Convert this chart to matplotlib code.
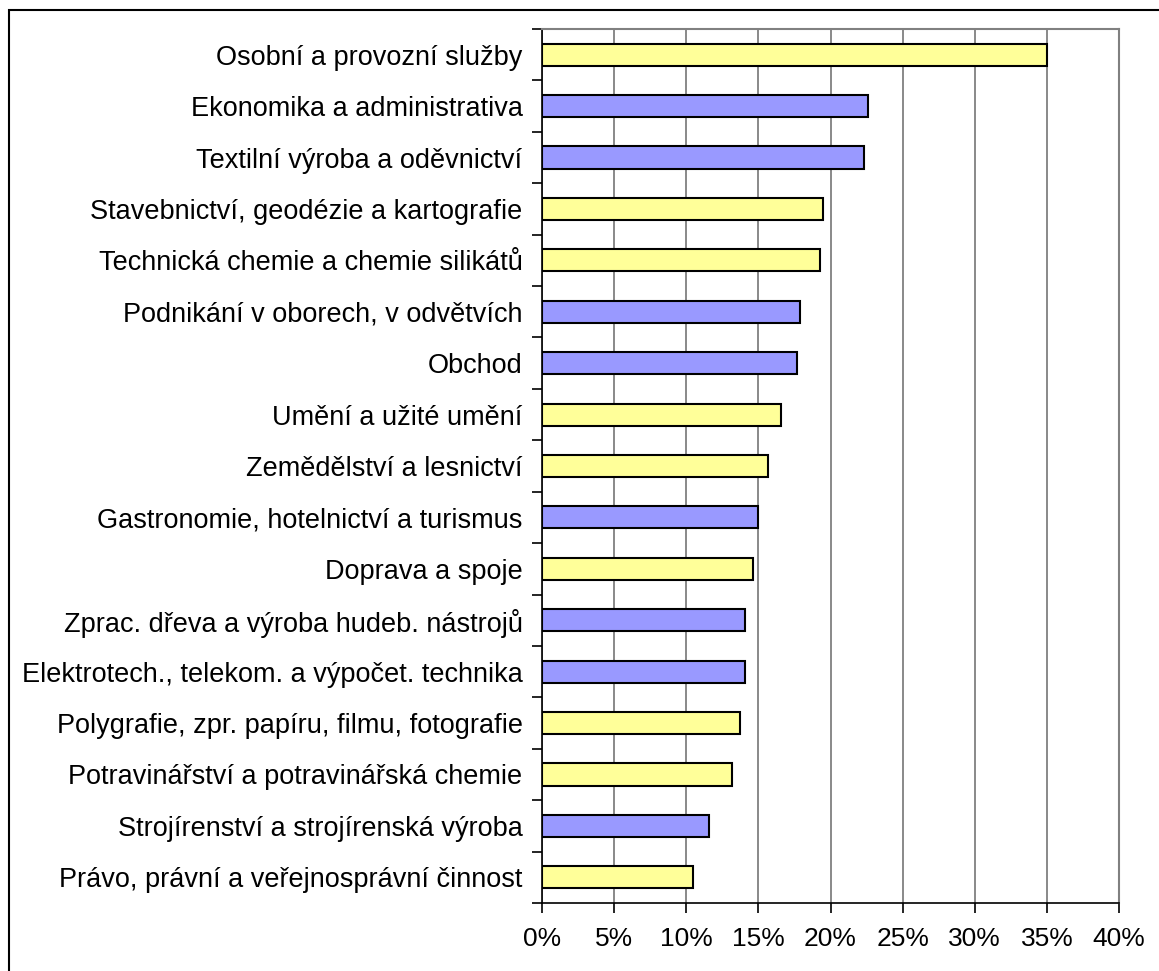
import matplotlib.pyplot as plt
import numpy as np
from matplotlib.patches import Rectangle
from matplotlib.ticker import FixedLocator, PercentFormatter

plt.rcParams['font.family'] = ['Liberation Sans', 'DejaVu Sans']

# categories top to bottom
categories = [
    "Osobní a provozní služby",
    "Ekonomika a administrativa",
    "Textilní výroba a oděvnictví",
    "Stavebnictví, geodézie a kartografie",
    "Technická chemie a chemie silikátů",
    "Podnikání v oborech, v odvětvích",
    "Obchod",
    "Umění a užité umění",
    "Zemědělství a lesnictví",
    "Gastronomie, hotelnictví a turismus",
    "Doprava a spoje",
    "Zprac. dřeva a výroba hudeb. nástrojů",
    "Elektrotech., telekom. a výpočet. technika",
    "Polygrafie, zpr. papíru, filmu, fotografie",
    "Potravinářství a potravinářská chemie",
    "Strojírenství a strojírenská výroba",
    "Právo, právní a veřejnosprávní činnost",
]
values = [35.0, 22.6, 22.3, 19.5, 19.3, 17.9, 17.7, 16.6, 15.7,
          15.0, 14.6, 14.1, 14.1, 13.7, 13.2, 11.6, 10.5]
groups = ["Y", "B", "B", "Y", "Y", "B", "B", "Y", "Y",
          "B", "Y", "B", "B", "Y", "Y", "B", "Y"]
group_colors = {"Y": "#FFFF99", "B": "#9999FF"}
x_ticks = [0, 5, 10, 15, 20, 25, 30, 35, 40]

W, H = 1159, 971
fig = plt.figure(figsize=(W / 100, H / 100), dpi=100)
ax = fig.add_axes([542 / W, 1 - 903 / H, (1119 - 542) / W, (903 - 29) / H])

n = len(categories)
ypos = np.arange(n)[::-1]
ax.barh(ypos, values, height=0.43,
        color=[group_colors[g] for g in groups],
        edgecolor="black", linewidth=1.5, zorder=3)

ax.set_xlim(0, 40)
ax.set_ylim(-0.5, n - 0.5)
ax.xaxis.set_major_locator(FixedLocator(x_ticks))
ax.xaxis.set_major_formatter(PercentFormatter(decimals=0))
ax.grid(axis="x", color="#808080", linewidth=1.3, zorder=0)

ax.set_yticks(ypos)
ax.set_yticklabels(categories)
ax.yaxis.set_minor_locator(FixedLocator(np.arange(-0.5, n, 1.0)))
ax.tick_params(axis="y", which="major", length=0, pad=14, labelsize=19.5)
ax.tick_params(axis="y", which="minor", length=7, width=1.2, color="black")
ax.tick_params(axis="x", which="major", length=7, width=1.2, pad=10,
               labelsize=19, color="black")

for side in ("top", "right"):
    ax.spines[side].set_color("#808080")
    ax.spines[side].set_linewidth(1.5)
for side in ("left", "bottom"):
    ax.spines[side].set_color("black")
    ax.spines[side].set_linewidth(1.2)

# outer chart border (cropped at right and bottom)
fig.add_artist(Rectangle((9 / W, -0.2), 1.2, 1.2 - 10 / H,
                         transform=fig.transFigure, fill=False,
                         edgecolor="black", linewidth=1.5, clip_on=False))

fig.savefig("out.png", dpi=100)
